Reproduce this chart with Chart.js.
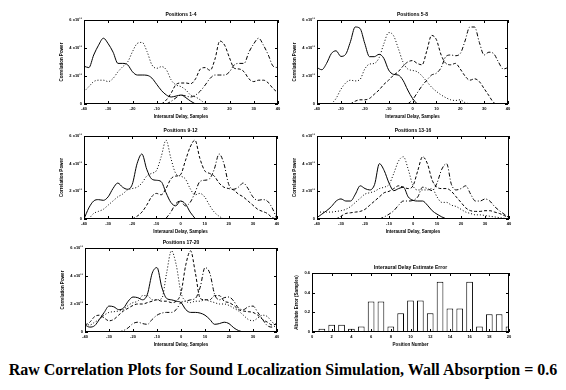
<!DOCTYPE html>
<html>
<head>
<meta charset="utf-8">
<script src="https://cdn.jsdelivr.net/npm/chart.js@4.4.1/dist/chart.umd.min.js"></script>
<style>
    body { margin: 0; background: #fff; }
    #page { position: relative; width: 566px; height: 390px; overflow: hidden; }
    canvas { position: absolute; }
    #caption {
        position: absolute; left: 0; top: 361px; width: 566px; text-align: center;
        font: bold 16px "Liberation Serif", "Times New Roman", serif; color: #000;
    }
</style>
</head>
<body>
<div id="page">
    <canvas id="c1" width="229" height="112" style="left:56px;top:10px"></canvas>
    <canvas id="c2" width="226" height="112" style="left:289px;top:10px"></canvas>
    <canvas id="c3" width="228" height="111" style="left:56px;top:126px"></canvas>
    <canvas id="c4" width="227" height="111" style="left:289px;top:126px"></canvas>
    <canvas id="c5" width="227" height="112" style="left:57px;top:238px"></canvas>
    <canvas id="c6" width="225" height="87" style="left:291px;top:263px"></canvas>
    <div id="caption">Raw Correlation Plots for Sound Localization Simulation, Wall Absorption = 0.6</div>
</div>
<script>
// interaural delay in samples, -40..40 step 2
const delays = [-40,-38,-36,-34,-32,-30,-28,-26,-24,-22,-20,-18,-16,-14,-12,-10,-8,-6,-4,-2,0,
    2,4,6,8,10,12,14,16,18,20,22,24,26,28,30,32,34,36,38,40];
const corrTicks = [0, 2, 4, 6];   // x10^11

// correlation power (x10^11), one array per source position
const pos1 = [2.7,2.6,3.5,4.2,4.7,4.3,3.7,2.9,2.9,2.8,2.3,2.07,2.07,2.05,1.85,1.4,0.95,0.64,0.5,0.57,0.64,
    0.45,0.2,0,null,null,null,null,null,null,null,null,null,null,null,null,null,null,null,null,null];
const pos2 = [0.88,1.24,1.6,1.7,1.7,1.6,1.83,2.3,2.67,3.0,3.74,4.33,4.4,3.74,2.8,2.55,2.67,2.43,1.7,1.36,1.24,
    1.0,0.64,0.5,0.29,0,null,null,null,null,null,null,null,null,null,null,null,null,null,null,null];
const pos3 = [null,null,null,null,null,null,null,null,null,null,null,null,null,null,null,null,0,0.3,0.8,1.4,1.5,
    1.5,1.45,1.8,2.5,2.6,2.4,3.2,4.5,4.2,3.3,2.55,2.5,2.3,1.8,1.6,1.7,1.7,1.5,1.1,0.8];
const pos4 = [null,null,null,null,null,null,null,null,null,null,null,null,null,null,null,null,null,0,0.2,0.45,0.64,
    0.57,0.5,0.64,0.93,1.36,1.83,2.07,2.07,2.07,2.3,2.8,2.9,2.9,3.7,4.3,4.7,4.2,3.5,2.7,2.6];

const pos5 = [2.6,2.45,2.9,3.6,3.8,3.4,3.55,4.45,5.5,5.4,4.33,3.38,3.38,3.55,3.26,2.43,2.12,2.07,1.7,1.0,0.4,
    0,null,null,null,null,null,null,null,null,null,null,null,null,null,null,null,null,null,null,null];
const pos6 = [null,null,null,0,0.4,1.05,1.5,1.7,1.65,1.75,2.5,2.85,2.9,3.3,4.3,5.1,4.9,4.0,3.0,2.5,2.4,
    2.3,2.0,1.6,1.2,0.9,0.65,0.45,0.3,0.25,0.3,0.1,0,null,null,null,null,null,null,null,null];
const pos7 = [null,null,null,null,null,null,null,0,0.2,0.3,0.3,0.4,0.7,1.0,1.4,1.7,2.05,2.3,2.7,3.0,3.1,
    2.9,2.8,3.8,4.9,4.6,3.5,2.9,2.8,2.9,2.5,2.0,1.7,1.8,1.6,1.1,0.6,0.1,0,null,null];
const pos8 = [null,null,null,null,null,null,null,null,null,null,null,null,null,null,null,null,null,null,null,0,0.3,
    0.8,1.3,1.7,2.07,2.2,2.6,3.4,3.5,3.45,3.6,4.5,5.5,5.5,4.4,3.5,3.7,3.6,3.0,2.5,2.6];

const pos9 = [0,0.8,1.3,1.4,1.35,1.6,2.2,2.6,2.3,2.15,2.5,4.0,4.7,3.6,2.9,2.8,2.7,1.9,1.2,0.95,1.3,
    1.1,0.5,0.05,null,null,null,null,null,null,null,null,null,null,null,null,null,null,null,null,null];
const pos10 = [null,0,0.4,0.55,0.7,1.0,1.3,1.6,1.8,2.1,2.2,2.3,2.6,3.1,3.3,3.5,4.5,5.7,4.4,3.3,3.1,
    2.9,2.2,1.75,1.85,1.6,1.0,0.5,0.2,0,null,null,null,null,null,null,null,null,null,null,null];
const pos11 = [null,null,null,null,null,null,null,null,null,null,0,0.2,0.5,1.0,1.6,1.85,1.75,2.2,2.9,3.1,3.2,
    4.2,5.2,5.7,4.4,3.5,3.3,3.1,2.6,2.3,2.2,2.1,1.8,1.6,1.3,1.0,0.7,0.55,0.4,0.1,0];
const pos12 = [null,null,null,null,null,null,null,null,null,null,null,null,null,null,null,null,null,0.05,0.5,1.1,1.3,
    0.95,1.2,1.9,2.7,2.8,2.9,3.6,4.7,4.0,2.5,2.15,2.3,2.6,2.2,1.6,1.35,1.4,1.3,0.8,0];

const pos13 = [0.1,0.35,0.6,0.9,1.3,1.45,1.3,1.3,1.8,2.4,2.2,2.1,2.5,4.0,3.5,2.6,2.05,2.2,2.3,1.6,1.35,
    1.3,1.3,1.0,0.6,0.35,0.15,0,null,null,null,null,null,null,null,null,null,null,null,null,null];
const pos14 = [0.5,0.5,0.5,0.5,0.55,0.6,0.7,0.9,1.2,1.5,1.8,1.9,2.0,2.2,2.3,2.5,3.3,4.2,4.5,3.6,2.4,
    2.1,2.1,2.1,2.2,1.6,1.2,1.2,1.0,0.9,0.7,0.5,0.4,0.3,0.3,0.25,0.2,0.15,0.1,0.05,0];
const pos15 = [null,null,null,null,0,0.2,0.4,0.45,0.5,0.55,0.7,1.0,1.3,1.6,1.9,2.0,2.2,2.4,2.3,2.2,2.4,
    3.5,4.5,4.0,2.8,2.3,2.2,2.2,2.0,1.6,1.2,0.8,0.6,0.55,0.55,0.6,0.6,0.5,0.4,0.25,0.1];
const pos16 = [null,null,null,null,null,null,null,null,null,null,null,null,null,0,0.15,0.35,0.6,1.0,1.3,1.3,1.35,
    1.6,2.3,2.2,2.05,2.6,3.6,4.0,2.5,2.1,2.2,2.4,1.8,1.3,1.3,1.45,1.3,0.9,0.6,0.35,0.1];

const pos17 = [0.5,0.35,0.45,0.9,1.4,1.85,1.8,1.6,1.7,2.2,2.5,2.45,2.3,2.7,4.2,4.6,3.2,2.4,2.3,2.2,2.1,
    1.6,1.4,1.4,1.35,1.2,0.9,0.55,0.6,0.7,0.6,0.3,0.1,0,null,null,null,null,null,null,null];
const pos18 = [0.6,0.5,0.7,0.9,1.2,1.4,1.45,1.5,1.6,1.9,2.1,2.2,2.6,2.6,2.3,2.3,2.4,4.2,5.8,4.8,2.8,
    2.2,2.1,2.2,2.2,2.3,2.2,2.1,2.0,2.0,1.9,1.7,1.5,1.2,0.9,0.8,1.0,1.2,1.1,0.7,0.5];
const pos19 = [0.5,0.7,1.1,1.2,1.0,0.8,0.9,1.2,1.5,1.7,1.9,2.0,2.0,2.1,2.2,2.3,2.2,2.2,2.1,2.2,2.8,
    4.8,5.8,4.2,2.4,2.3,2.3,2.6,2.6,2.2,2.1,1.9,1.6,1.5,1.45,1.4,1.2,0.9,0.7,0.5,0.6];
const pos20 = [null,null,null,null,null,null,null,0,0.1,0.3,0.6,0.7,0.6,0.55,0.9,1.2,1.35,1.4,1.4,1.6,2.1,
    2.2,2.3,2.4,3.2,4.6,4.2,2.7,2.3,2.45,2.5,2.2,1.7,1.6,1.8,1.85,1.4,0.9,0.45,0.35,0.5];

// estimate error per position
const positionNumbers = [1,2,3,4,5,6,7,8,9,10,11,12,13,14,15,16,17,18,19,20];
const delayErrors = [0.034,0.075,0.075,0.034,0.055,0.31,0.31,0.055,0.19,0.32,0.32,0.19,0.51,0.24,0.24,0.51,0.055,0.18,0.18,0.055];

const lineDashes = [[], [1, 2], [3, 2], [4, 2, 1, 2]];

Chart.defaults.font.family = '"Liberation Sans", Arial, sans-serif';
Chart.defaults.color = '#000';

// gnuplot style frame: box round the plot, ticks pointing inward
const frameTicks = {
    id: 'frameTicks',
    afterDraw: function (chart) {
        const ctx = chart.ctx;
        const a = chart.chartArea;
        ctx.save();
        ctx.strokeStyle = '#000';
        ctx.lineWidth = 1;
        ctx.strokeRect(a.left + 0.5, a.top + 0.5, a.right - a.left - 1, a.bottom - a.top - 1);
        ctx.beginPath();
        chart.scales.x.ticks.forEach(function (t) {
            const px = Math.round(chart.scales.x.getPixelForValue(t.value)) + 0.5;
            ctx.moveTo(px, a.bottom); ctx.lineTo(px, a.bottom - 3);
            ctx.moveTo(px, a.top); ctx.lineTo(px, a.top + 3);
        });
        chart.scales.y.ticks.forEach(function (t) {
            const py = Math.round(chart.scales.y.getPixelForValue(t.value)) + 0.5;
            ctx.moveTo(a.left, py); ctx.lineTo(a.left + 3, py);
            ctx.moveTo(a.right, py); ctx.lineTo(a.right - 3, py);
        });
        ctx.stroke();
        ctx.restore();
    }
};

function axisTitle(text) {
    return { display: true, text: text, font: { size: 4.5, weight: 'bold' }, padding: { top: 3, bottom: 3 } };
}

function plotTitle(text) {
    return { display: true, text: text, fullSize: false, font: { size: 5, weight: 'bold' }, padding: { top: 2, bottom: 2 } };
}

const noGrid = { display: false, drawTicks: false };

function createCorrChart(id, title, series, yAxisWidth) {
    new Chart(document.getElementById(id), {
        type: 'line',
        data: {
            datasets: series.map(function (values, k) {
                return {
                    data: values.map((v, i) => ({ x: delays[i], y: v })),
                    borderColor: '#000',
                    borderWidth: 1,
                    borderDash: lineDashes[k],
                    pointRadius: 0,
                    fill: false,
                    cubicInterpolationMode: 'monotone'
                };
            })
        },
        options: {
            responsive: false,
            animation: false,
            devicePixelRatio: 1,
            layout: { padding: { left: 0, right: 7, top: 0, bottom: 0 } },
            plugins: { legend: { display: false }, tooltip: { enabled: false }, title: plotTitle(title) },
            scales: {
                x: {
                    type: 'linear', min: -40, max: 40,
                    grid: noGrid, border: { display: false },
                    ticks: { stepSize: 10, maxRotation: 0, autoSkip: false, padding: 2, font: { size: 4, weight: 'bold' } },
                    title: axisTitle('Interaural Delay, Samples'),
                    afterFit: function (scale) { scale.height = 18; }
                },
                y: {
                    min: 0, max: 6,
                    grid: noGrid, border: { display: false },
                    afterBuildTicks: function (scale) { scale.ticks = corrTicks.map(v => ({ value: v })); },
                    ticks: {
                        padding: 2, font: { size: 4, weight: 'bold' },
                        callback: function (v) { return v === 0 ? '0' : v + ' x10\u00b9\u00b9'; }
                    },
                    title: axisTitle('Correlation Power'),
                    afterFit: function (scale) { scale.width = yAxisWidth; }
                }
            }
        },
        plugins: [frameTicks]
    });
}

function createErrorChart(id) {
    new Chart(document.getElementById(id), {
        type: 'bar',
        data: {
            datasets: [{
                data: positionNumbers.map((p, i) => ({ x: p, y: delayErrors[i] })),
                backgroundColor: '#fff',
                borderColor: '#000',
                borderWidth: 1,
                barPercentage: 0.85,
                categoryPercentage: 0.8,
                clip: 0
            }]
        },
        options: {
            responsive: false,
            animation: false,
            devicePixelRatio: 1,
            layout: { padding: { left: 0, right: 7, top: 0, bottom: 0 } },
            plugins: { legend: { display: false }, tooltip: { enabled: false }, title: plotTitle('Interaural Delay Estimate Error') },
            scales: {
                x: {
                    type: 'linear', min: 0, max: 20, offset: false,
                    grid: noGrid, border: { display: false },
                    ticks: { stepSize: 2, maxRotation: 0, autoSkip: false, padding: 2, font: { size: 4, weight: 'bold' } },
                    title: axisTitle('Position Number'),
                    afterFit: function (scale) { scale.height = 18; }
                },
                y: {
                    min: 0, max: 0.6,
                    grid: noGrid, border: { display: false },
                    ticks: {
                        stepSize: 0.2, padding: 2, font: { size: 4, weight: 'bold' },
                        callback: function (v) { return v === 0 ? '0' : v.toFixed(1); }
                    },
                    title: axisTitle('Absolute Error (Samples)'),
                    afterFit: function (scale) { scale.width = 21; }
                }
            }
        },
        plugins: [frameTicks]
    });
}

createCorrChart('c1', 'Positions 1-4', [pos1, pos2, pos3, pos4], 28);
createCorrChart('c2', 'Positions 5-8', [pos5, pos6, pos7, pos8], 28);
createCorrChart('c3', 'Positions 9-12', [pos9, pos10, pos11, pos12], 28);
createCorrChart('c4', 'Positions 13-16', [pos13, pos14, pos15, pos16], 28);
createCorrChart('c5', 'Positions 17-20', [pos17, pos18, pos19, pos20], 28);
createErrorChart('c6');
</script>
</body>
</html>
